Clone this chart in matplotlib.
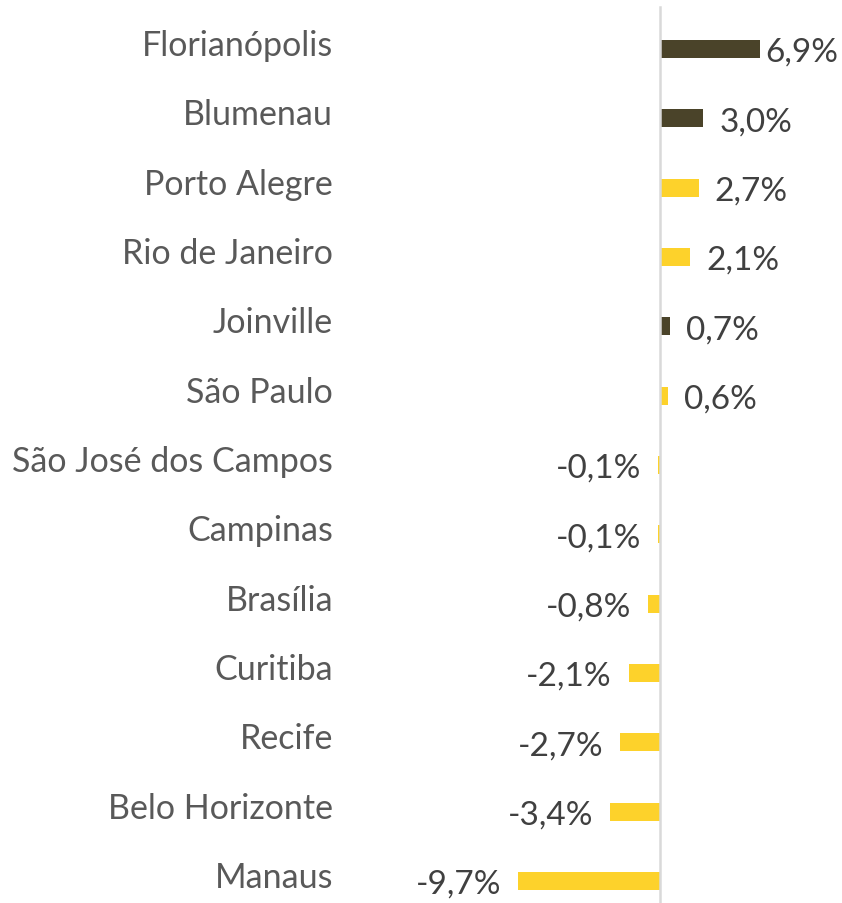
import matplotlib
matplotlib.use("Agg")
import matplotlib.pyplot as plt
from matplotlib.transforms import ScaledTranslation

cities = ["Florianópolis", "Blumenau", "Porto Alegre", "Rio de Janeiro", "Joinville",
          "São Paulo", "São José dos Campos", "Campinas", "Brasília", "Curitiba",
          "Recife", "Belo Horizonte", "Manaus"]
values = [6.9, 3.0, 2.7, 2.1, 0.7, 0.6, -0.1, -0.1, -0.8, -2.1, -2.7, -3.4, -9.7]
santa_catarina = ["Florianópolis", "Blumenau", "Joinville"]

DARK = "#4A4329"
YELLOW = "#FDD22B"

plt.rcParams["font.family"] = ["Lato", "DejaVu Sans"]

W, H = 842, 904
fig = plt.figure(figsize=(W / 100, H / 100), dpi=100)
ax = fig.add_axes([345 / W, 0, 1 - 345 / W, 1])

zero_px, px_per = 659.5, 14.55
ax.set_xlim((345 - zero_px) / px_per, (W - zero_px) / px_per)
step = 69.33
ax.set_ylim(12 + (H - 882) / step, -50 / step)

ypos = list(range(len(cities)))
colors = [DARK if c in santa_catarina else YELLOW for c in cities]
ax.barh(ypos, values, height=0.26, color=colors, zorder=2)
# axis line sits on top, which hides the tiny -0,1% bars as in the original
ax.axvline(0, ymin=0, ymax=1 - 8 / H, color="#D9D9D9", lw=1.8, zorder=3)

ax.set_yticks(ypos)
ax.set_yticklabels(cities, fontsize=24.5, color="#595959")
ax.tick_params(axis="y", length=0, pad=8.6)
ax.set_xticks([])
for lab in ax.get_yticklabels():
    lab.set_transform(lab.get_transform() + ScaledTranslation(0, 0.07, fig.dpi_scale_trans))
for s in ax.spines.values():
    s.set_visible(False)

for y, v in zip(ypos, values):
    txt = f"{v:.1f}%".replace(".", ",")
    if v >= 0:
        off = 5 if v == max(values) else 16
        ax.annotate(txt, (v, y), xytext=(off * 0.72, -3 * 0.72), textcoords="offset points",
                    ha="left", va="center", fontsize=24, color="#404040")
    else:
        ax.annotate(txt, (v, y), xytext=(-17 * 0.72, -3 * 0.72), textcoords="offset points",
                    ha="right", va="center", fontsize=24, color="#404040")

fig.savefig("out.png", dpi=100)
